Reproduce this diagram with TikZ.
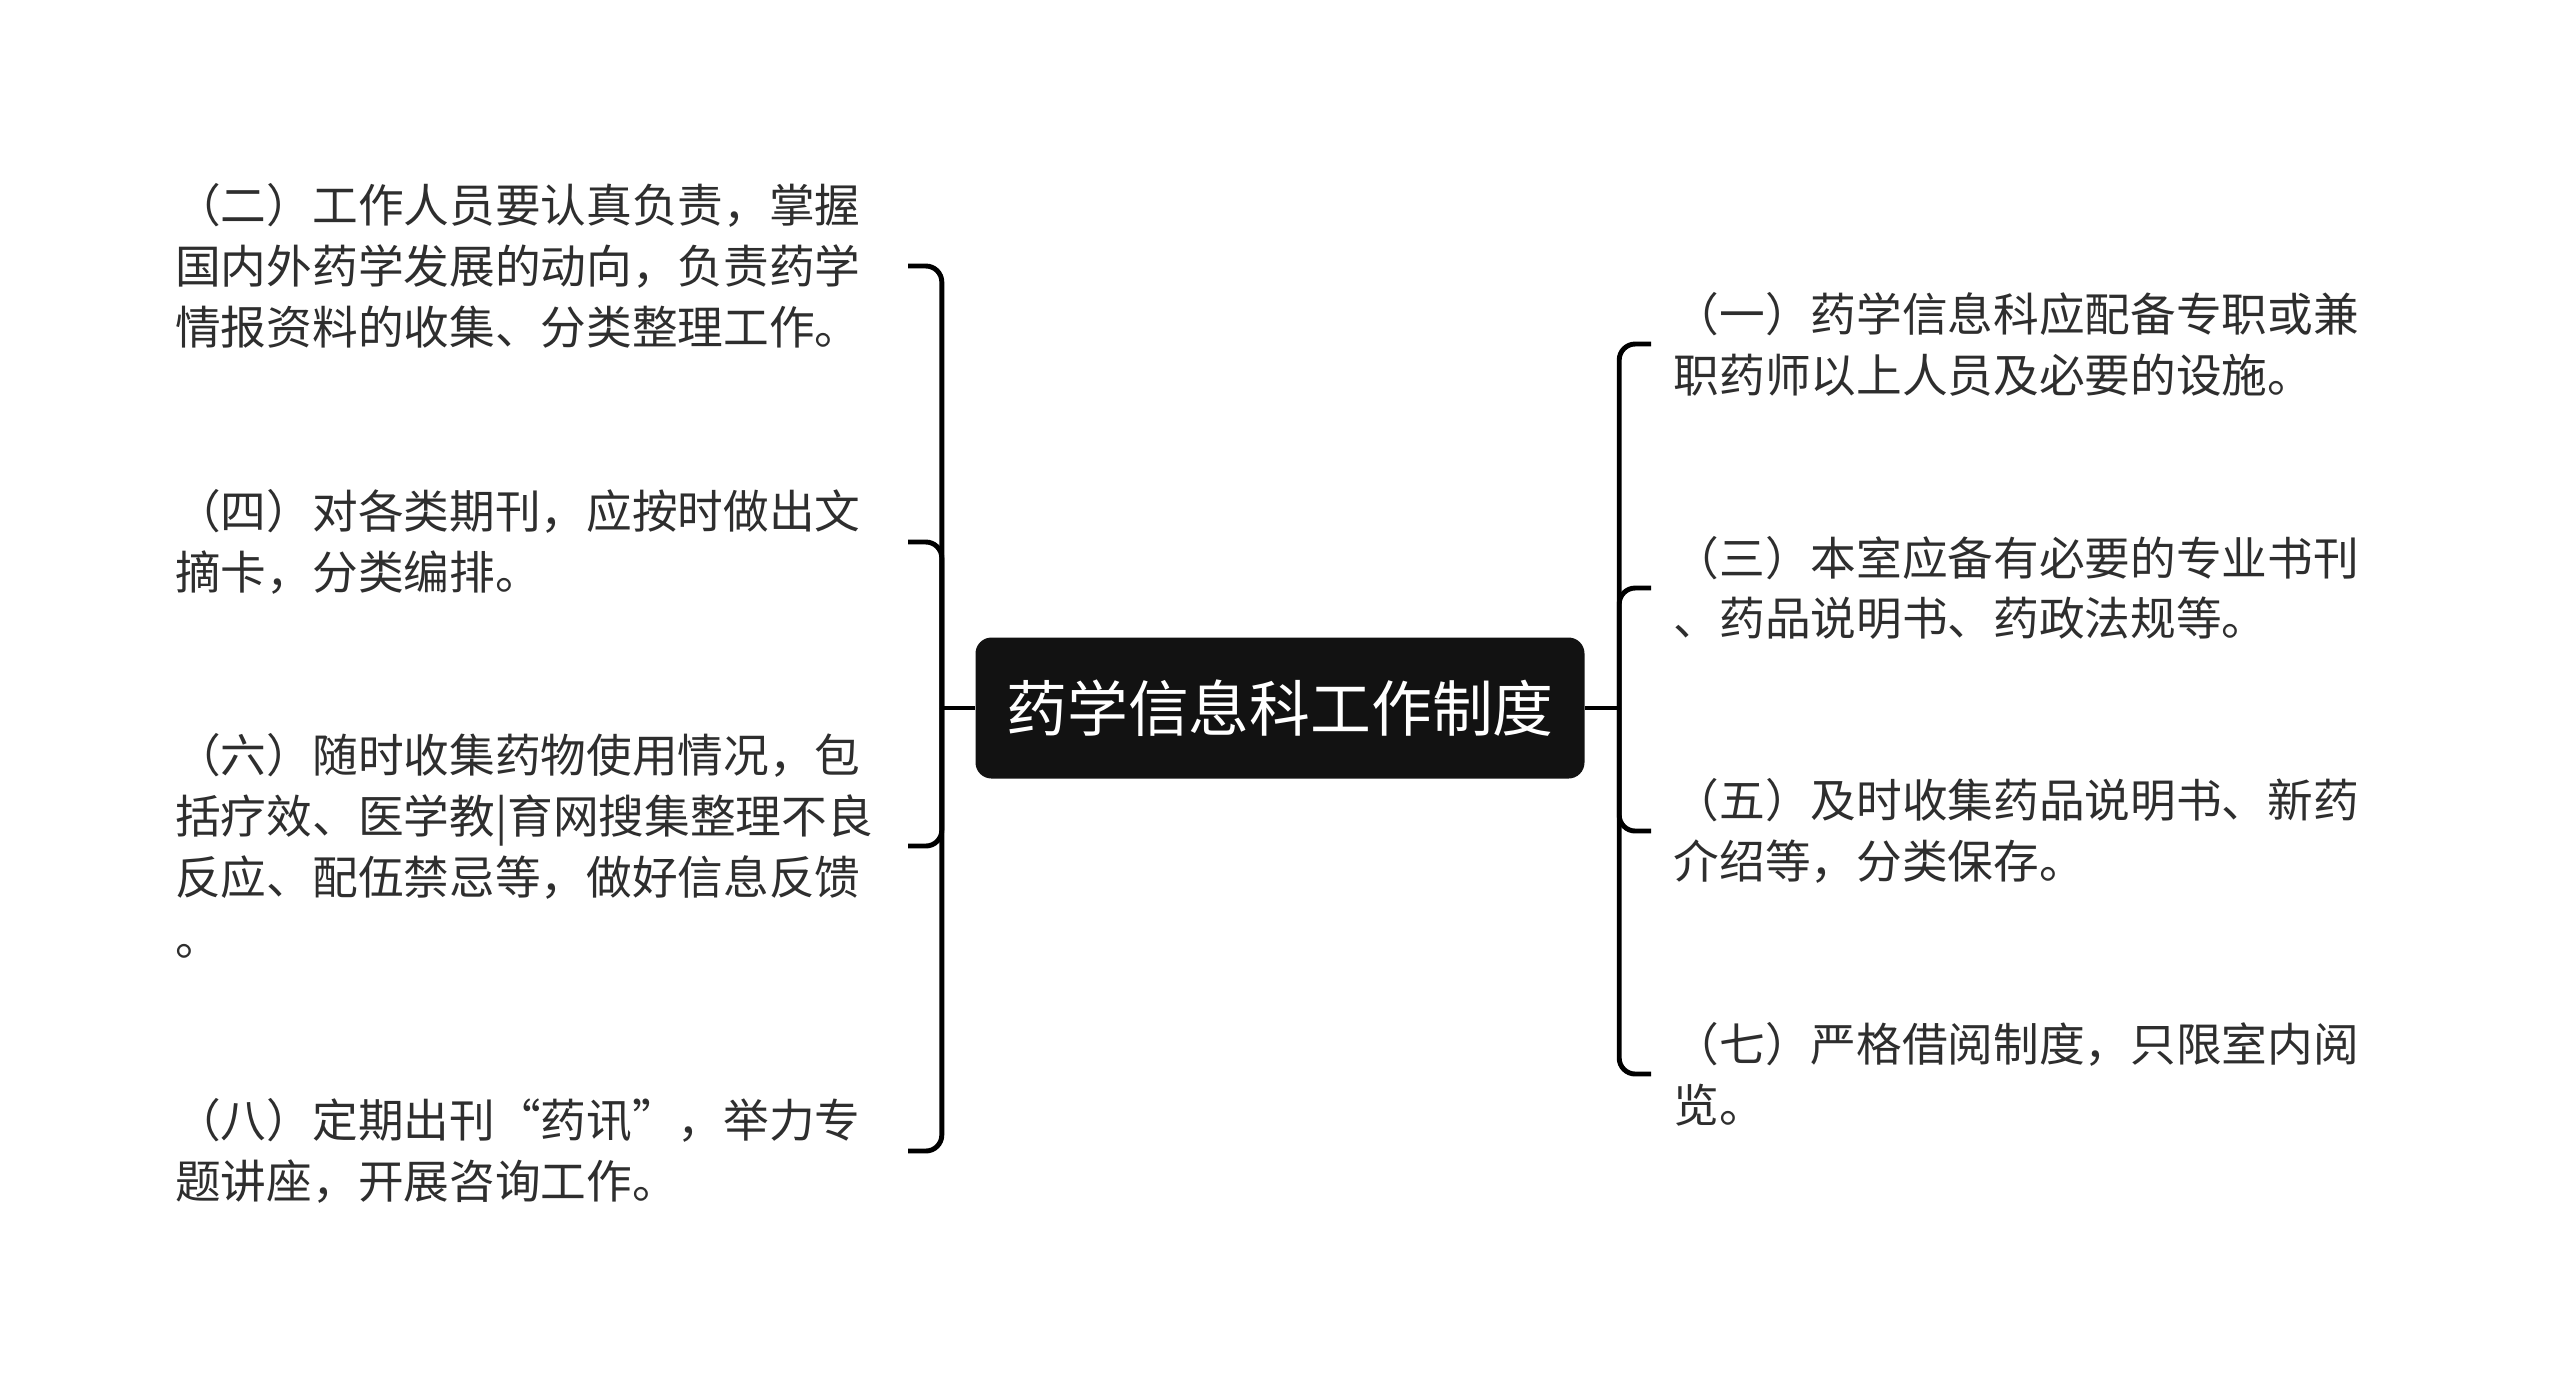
\documentclass[tikz,border=0pt]{standalone}
\usepackage{fontspec}
\setmainfont{Noto Sans CJK SC}
\usetikzlibrary{positioning}
\begin{document}
\begin{tikzpicture}[
  link/.style={line width=1.4pt,rounded corners=0.16cm},
  leaf/.style={inner xsep=0.22cm,inner ysep=0pt,text width=7.1cm,align=left,
    text=black!82,font=\fontsize{13pt}{17.3pt}\selectfont},
  root/.style={fill=black!93,rounded corners=0.16cm,text=white,
    minimum width=6.09cm,minimum height=1.41cm,font=\fontsize{17.3pt}{20pt}\selectfont}
]
\useasboundingbox (0,0) rectangle (25.6,-13.87);
\node[root] (r) at (12.8,-7.08) {药学信息科工作制度};
% left
\node[leaf,anchor=east] (l2) at (9.08,-2.66) {（二）工作人员要认真负责，掌握\\国内外药学发展的动向，负责药学\\情报资料的收集、分类整理工作。};
\node[leaf,anchor=east] (l4) at (9.08,-5.42) {（四）对各类期刊，应按时做出文\\摘卡，分类编排。};
\node[leaf,anchor=east] (l6) at (9.08,-8.46) {（六）随时收集药物使用情况，包\\括疗效、医学教|育网搜集整理不良\\反应、配伍禁忌等，做好信息反馈\\。};
\node[leaf,anchor=east] (l8) at (9.08,-11.51) {（八）定期出刊“药讯”，举力专\\题讲座，开展咨询工作。};
% right
\node[leaf,anchor=west] (r1) at (16.51,-3.44) {（一）药学信息科应配备专职或兼\\职药师以上人员及必要的设施。};
\node[leaf,anchor=west] (r3) at (16.51,-5.88) {（三）本室应备有必要的专业书刊\\、药品说明书、药政法规等。};
\node[leaf,anchor=west] (r5) at (16.51,-8.31) {（五）及时收集药品说明书、新药\\介绍等，分类保存。};
\node[leaf,anchor=west] (r7) at (16.51,-10.74) {（七）严格借阅制度，只限室内阅\\览。};
\draw[link] (r.west) -- ++(-0.33,0) coordinate (ls);
\draw[link] (l2.east) -| (ls) |- (l8.east);
\draw[link] (l4.east) -| (ls);
\draw[link] (l6.east) -| (ls);
\draw[link] (r.east) -- ++(0.34,0) coordinate (rs);
\draw[link] (r1.west) -| (rs) |- (r7.west);
\draw[link] (r3.west) -| (rs);
\draw[link] (r5.west) -| (rs);
\end{tikzpicture}
\end{document}
